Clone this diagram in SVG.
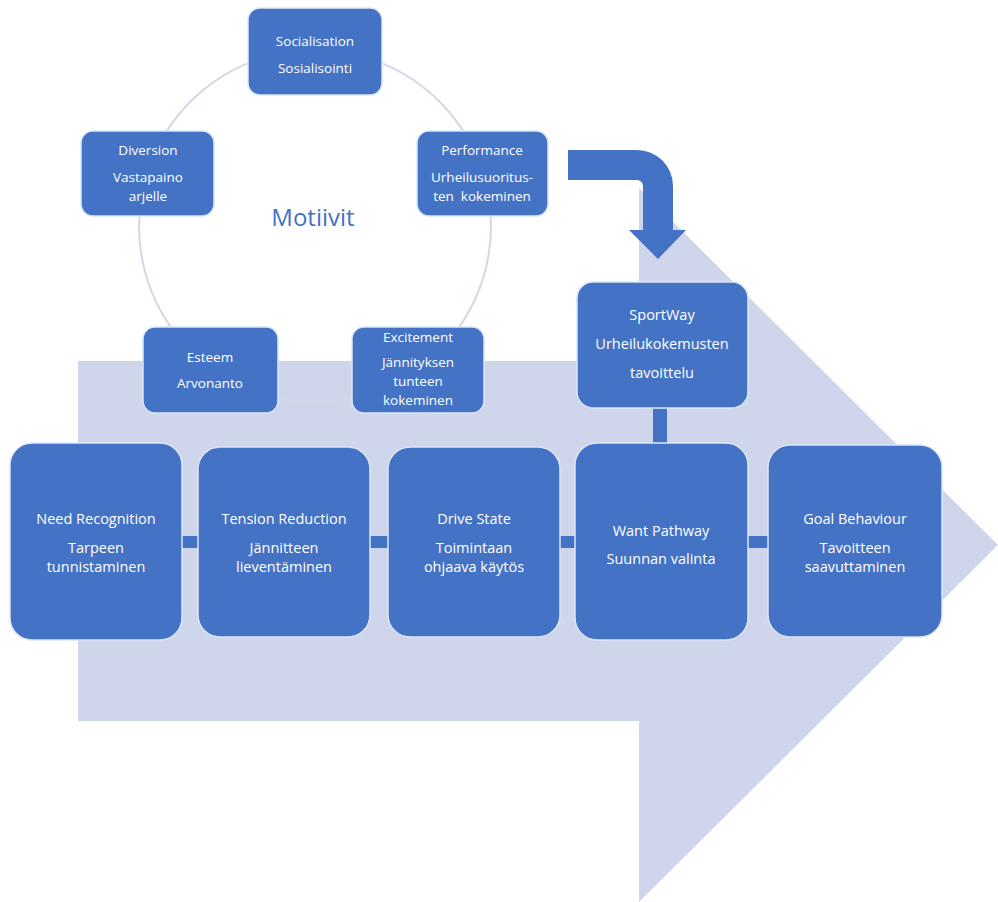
<svg xmlns="http://www.w3.org/2000/svg" width="998" height="902" viewBox="0 0 998 902">
<style>
.bg{fill:#CFD5EA}
.ring{fill:none;stroke:#D3D8E6;stroke-width:2}
.n{fill:#4472C4;stroke:#DCE6F5;stroke-width:1.5}
.c{fill:#4472C4}
.t{font-family:"Open Sans","Liberation Sans",sans-serif;fill:#FFFFFF;text-anchor:middle;dominant-baseline:central}
.s{font-size:13.5px}
.b{font-size:14.5px}
.m{font-family:"Open Sans","Liberation Sans",sans-serif;fill:#4472C4;font-size:24px;text-anchor:middle;dominant-baseline:central}
</style>
<rect width="998" height="902" fill="#FFFFFF"/>
<polygon class="bg" points="78,361 639,361 639,188 998,545 639,902 639,721 78,721"/>
<circle class="ring" cx="315" cy="226" r="176"/>
<text class="m" x="313" y="216">Motiivit</text>
<g id="connectors">
<path class="c" d="M568,150 L637,150 A36,36 0 0 1 673,186 L673,230 L686,230 L658,259 L629,230 L643,230 L643,186 A6,6 0 0 0 637,180 L568,180 Z"/>
<rect class="c" x="653" y="406" width="14" height="39"/>
<rect class="c" x="180" y="536" width="20" height="12"/>
<rect class="c" x="368" y="536" width="22" height="12"/>
<rect class="c" x="558" y="536" width="19" height="12"/>
<rect class="c" x="746" y="536" width="24" height="12"/>
</g>
<g id="socialisation">
<rect class="n" x="248" y="8" width="134" height="87" rx="12"/>
<text class="t s" x="315" y="41">Socialisation</text>
<text class="t s" x="315" y="68">Sosialisointi</text>
</g>
<g id="diversion">
<rect class="n" x="81" y="131" width="133" height="85" rx="12"/>
<text class="t s" x="148" y="150">Diversion</text>
<text class="t s" x="148" y="177">Vastapaino</text>
<text class="t s" x="148" y="196">arjelle</text>
</g>
<g id="performance">
<rect class="n" x="417" y="131" width="131" height="85" rx="12"/>
<text class="t s" x="482" y="150">Performance</text>
<text class="t s" x="482" y="177">Urheilusuoritus-</text>
<text class="t s" x="482" y="196">ten&#160; kokeminen</text>
</g>
<g id="esteem">
<rect class="n" x="143" y="327" width="135" height="86" rx="12"/>
<text class="t s" x="210" y="357">Esteem</text>
<text class="t s" x="210" y="383">Arvonanto</text>
</g>
<g id="excitement">
<rect class="n" x="352" y="327" width="132" height="86" rx="12"/>
<text class="t s" x="418" y="337">Excitement</text>
<text class="t s" x="418" y="362">Jännityksen</text>
<text class="t s" x="418" y="381">tunteen</text>
<text class="t s" x="418" y="400">kokeminen</text>
</g>
<g id="sportway">
<rect class="n" x="577" y="282" width="171" height="126" rx="16"/>
<text class="t b" x="662" y="314">SportWay</text>
<text class="t b" x="662" y="343">Urheilukokemusten</text>
<text class="t b" x="662" y="372">tavoittelu</text>
</g>
<g id="need">
<rect class="n" x="10" y="443" width="172" height="197" rx="22"/>
<text class="t b" x="96" y="518">Need Recognition</text>
<text class="t b" x="96" y="547">Tarpeen</text>
<text class="t b" x="96" y="566">tunnistaminen</text>
</g>
<g id="tension">
<rect class="n" x="198" y="447" width="172" height="190" rx="22"/>
<text class="t b" x="284" y="518">Tension Reduction</text>
<text class="t b" x="284" y="547">Jännitteen</text>
<text class="t b" x="284" y="566">lieventäminen</text>
</g>
<g id="drive">
<rect class="n" x="388" y="447" width="172" height="190" rx="22"/>
<text class="t b" x="474" y="518">Drive State</text>
<text class="t b" x="474" y="547">Toimintaan</text>
<text class="t b" x="474" y="566">ohjaava käytös</text>
</g>
<g id="want">
<rect class="n" x="575" y="443" width="173" height="197" rx="22"/>
<text class="t b" x="661" y="530">Want Pathway</text>
<text class="t b" x="661" y="558">Suunnan valinta</text>
</g>
<g id="goal">
<rect class="n" x="768" y="445" width="174" height="192" rx="22"/>
<text class="t b" x="855" y="518">Goal Behaviour</text>
<text class="t b" x="855" y="547">Tavoitteen</text>
<text class="t b" x="855" y="566">saavuttaminen</text>
</g>
</svg>
